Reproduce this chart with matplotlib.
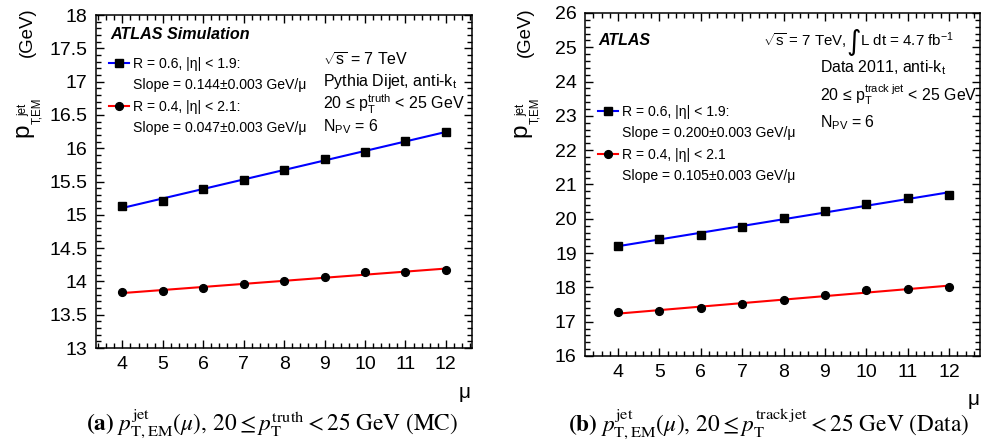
import numpy as np
import matplotlib.pyplot as plt
from matplotlib.lines import Line2D

plt.rcParams['font.family'] = ['Liberation Sans', 'DejaVu Sans']
plt.rcParams['mathtext.fontset'] = 'custom'
plt.rcParams['mathtext.rm'] = 'Liberation Sans'
plt.rcParams['mathtext.it'] = 'Liberation Sans:italic'
plt.rcParams['mathtext.bf'] = 'Liberation Sans:bold'

# pile-up values
mu = [4, 5, 6, 7, 8, 9, 10, 11, 12]

# (a) MC, truth-matched
mc_r06 = [15.13, 15.21, 15.39, 15.52, 15.68, 15.84, 15.94, 16.11, 16.24]
mc_r04 = [13.835, 13.86, 13.905, 13.96, 14.00, 14.07, 14.14, 14.14, 14.17]

# (b) Data 2011, track-jet matched
data_r06 = [19.21, 19.40, 19.54, 19.76, 20.02, 20.23, 20.42, 20.60, 20.70]
data_r04 = [17.28, 17.32, 17.39, 17.53, 17.62, 17.77, 17.91, 17.96, 18.01]

mc_slopes = ['0.144', '0.047']
data_slopes = ['0.200', '0.105']

W, H = 982, 448
fig = plt.figure(figsize=(W / 100, H / 100), dpi=100)
axa = fig.add_axes([0.0978, 0.2232, 0.3830, 0.7433])
axb = fig.add_axes([0.5957, 0.2054, 0.4023, 0.7656])


def draw_panel(ax, y06, y04):
    x = np.array(mu)
    handles = []
    for y, mk, col in [(y06, 's', 'blue'), (y04, 'o', 'red')]:
        p = np.polyfit(x, y, 1)
        ax.plot(x, np.polyval(p, x), color=col, lw=1.5, zorder=2)
        ax.plot(x, y, ls='none', marker=mk, color='black', ms=5.6, zorder=3)
        handles.append(Line2D([], [], color=col, lw=1.5, marker=mk,
                              mfc='black', mec='black', ms=5.6))
    return handles


def style(ax, xlim, ylim, major, minor):
    ax.set_xlim(*xlim)
    ax.set_ylim(*ylim)
    ax.set_xticks(range(4, 13))
    ax.set_xticks(np.arange(3.4, 12.75, 0.2), minor=True)
    ax.set_yticks(np.arange(ylim[0], ylim[1] + 0.01, major))
    ax.set_yticks(np.arange(ylim[0], ylim[1] + 0.01, minor), minor=True)
    ax.tick_params(which='both', direction='in', top=True, right=True,
                   width=1, labelsize=14)
    ax.tick_params(which='major', length=6, pad=6)
    ax.tick_params(which='minor', length=3.5)
    for s in ax.spines.values():
        s.set_linewidth(1.1)


def y_title(dx):
    # ROOT-style title: big p, small scripts, then (GeV); pixel anchors
    parts = [('p', 28, 137, 17.5), ('T,EM', 40, 123.5, 8.3),
             ('jet', 26, 115.5, 8.3), ('(GeV)', 31.5, 57, 13.4)]
    for s, bx, by, fs in parts:
        fig.text((bx + dx) / W, 1 - by / H, s, rotation=90,
                 rotation_mode='anchor', ha='left', va='baseline', fontsize=fs)


leg_kw = dict(loc='upper left', frameon=False, fontsize=10.1,
              handlelength=1.4, handletextpad=0.3, labelspacing=0.52,
              borderpad=0, borderaxespad=0)
blank = Line2D([], [], alpha=0)

# ---- panel (a)
ha = draw_panel(axa, mc_r06, mc_r04)
style(axa, (3.35, 12.65), (13, 18), 0.5, 0.1)
axa.set_yticklabels(['13', '13.5', '14', '14.5', '15', '15.5', '16',
                     '16.5', '17', '17.5', '18'])
axa.legend([ha[0], blank, ha[1], blank],
           ['R = 0.6, |η| < 1.9:', 'Slope = %s±0.003 GeV/μ' % mc_slopes[0],
            'R = 0.4, |η| < 2.1:', 'Slope = %s±0.003 GeV/μ' % mc_slopes[1]],
           bbox_to_anchor=(0.035, 0.874), **leg_kw)
axa.text(0.037, 0.94, 'ATLAS Simulation', transform=axa.transAxes,
         fontsize=11.6, fontweight='bold', style='italic', va='center')
for ty, s in [(0.865, r'$\sqrt{\mathrm{s}}$ = 7 TeV'),
              (0.799, r'Pythia Dijet, anti-k$_{\mathrm{t}}$'),
              (0.733, r'20 ≤ p$_{\mathrm{T}}^{\mathrm{truth}}$ < 25 GeV'),
              (0.664, r'N$_{\mathrm{PV}}$ = 6')]:
    axa.text(0.604, ty, s, transform=axa.transAxes, fontsize=11.5, va='center')
y_title(0)
axa.set_xlabel('μ', fontsize=15)
axa.xaxis.set_label_coords(0.981, -0.105)

# ---- panel (b)
hb = draw_panel(axb, data_r06, data_r04)
style(axb, (3.2, 12.75), (16, 26), 1, 0.2)
axb.legend([hb[0], blank, hb[1], blank],
           ['R = 0.6, |η| < 1.9:', 'Slope = %s±0.003 GeV/μ' % data_slopes[0],
            'R = 0.4, |η| < 2.1', 'Slope = %s±0.003 GeV/μ' % data_slopes[1]],
           bbox_to_anchor=(0.033, 0.732), **leg_kw)
axb.text(0.033, 0.921, 'ATLAS', transform=axb.transAxes,
         fontsize=11.5, fontweight='bold', style='italic', va='center')
axb.text(0.451, 0.921, r'$\sqrt{\mathrm{s}}$ = 7 TeV,',
         transform=axb.transAxes, fontsize=10.8, va='center')
axb.text(0.679, 0.915, '∫', transform=axb.transAxes, fontsize=20,
         ha='center', va='center', family='DejaVu Sans')
axb.text(0.697, 0.921, r'L dt = 4.7 fb$^{-1}$',
         transform=axb.transAxes, fontsize=10.9, va='center')
for ty, s in [(0.840, r'Data 2011, anti-k$_{\mathrm{t}}$'),
              (0.761, r'20 ≤ p$_{\mathrm{T}}^{\mathrm{track\ jet}}$ < 25 GeV'),
              (0.679, r'N$_{\mathrm{PV}}$ = 6')]:
    axb.text(0.595, ty, s, transform=axb.transAxes, fontsize=11.4, va='center')
y_title(498)
axb.set_xlabel('μ', fontsize=15)
axb.xaxis.set_label_coords(0.985, -0.1)

# captions
fig.text(272 / W, 1 - 424 / H,
         r'$\mathbf{(a)}\ p^{\mathrm{jet}}_{\mathrm{T,EM}}(\mu),\, 20 \leq p^{\mathrm{truth}}_{\mathrm{T}} < 25\ \mathrm{GeV\ (MC)}$',
         ha='center', va='center', fontsize=16.8, math_fontfamily='stix')
fig.text(769 / W, 1 - 424 / H,
         r'$\mathbf{(b)}\ p^{\mathrm{jet}}_{\mathrm{T,EM}}(\mu),\, 20 \leq p^{\mathrm{track\,jet}}_{\mathrm{T}} < 25\ \mathrm{GeV\ (Data)}$',
         ha='center', va='center', fontsize=16.8, math_fontfamily='stix')

fig.savefig('out.png', dpi=100)
